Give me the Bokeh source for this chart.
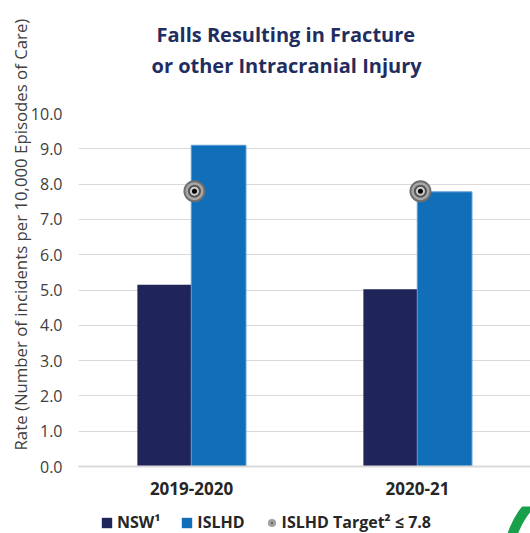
import math
from bokeh.plotting import figure
from bokeh.layouts import column
from bokeh.models import (ColumnDataSource, FactorRange, Range1d, FixedTicker,
                          NumeralTickFormatter, Title, Legend, LegendItem)
from bokeh.transform import dodge
from bokeh.embed import file_html
from bokeh.resources import INLINE

periods = ["2019-2020", "2020-21"]
nsw = [5.15, 5.02]
islhd = [9.1, 7.78]
target = [7.8, 7.8]
y_ticks = [0, 1, 2, 3, 4, 5, 6, 7, 8, 9, 10]

NAVY = "#1f2559"
BLUE = "#116eb8"
TITLE = "#1f2d5f"
GREEN = "#18a04a"
FONT = "Open Sans"

src = ColumnDataSource(dict(period=periods, nsw=nsw, islhd=islhd, target=target))

p = figure(x_range=FactorRange(*periods, range_padding=0), y_range=Range1d(0, 10),
           width=530, height=506, output_backend="svg", toolbar_location=None,
           title=None,
           min_border_left=78, min_border_right=0, min_border_top=113,
           min_border_bottom=40)
p.outline_line_color = None
p.background_fill_color = "white"
p.border_fill_color = "white"

p.vbar(x=dodge("period", -0.12, range=p.x_range), top="nsw", width=0.239,
       source=src, fill_color=NAVY, line_color=None)
p.vbar(x=dodge("period", 0.12, range=p.x_range), top="islhd", width=0.242,
       source=src, fill_color=BLUE, line_color="#5b9bd5", line_width=1)

tx = dodge("period", 0.013, range=p.x_range)
for sz, col in [(22, "#6f6f6f"), (18, "#a8a8a8"), (13, "#555555"), (9, "#cfcfcf"), (5, "#000000")]:
    p.scatter(x=tx, y="target", size=sz, source=src, fill_color=col, line_color=None)

p.yaxis.ticker = FixedTicker(ticks=y_ticks)
p.yaxis.formatter = NumeralTickFormatter(format="0.0")
p.yaxis.axis_line_color = None
p.yaxis.major_tick_line_color = None
p.yaxis.minor_tick_line_color = None
p.yaxis.major_tick_out = 0
p.yaxis.minor_tick_out = 0
p.yaxis.major_label_text_font = FONT
p.yaxis.major_label_text_font_size = "16px"
p.yaxis.major_label_text_color = "#404040"
p.yaxis.major_label_standoff = 16

p.xaxis.axis_line_color = "#d9d9d9"
p.xaxis.axis_line_width = 2
p.xaxis.major_tick_line_color = None
p.xaxis.minor_tick_line_color = None
p.xaxis.major_tick_out = 0
p.xaxis.minor_tick_out = 0
p.xaxis.major_label_text_font = FONT
p.xaxis.major_label_text_font_size = "17px"
p.xaxis.major_label_text_font_style = "bold"
p.xaxis.major_label_text_color = "#262626"
p.xaxis.major_label_standoff = 15

p.ygrid.grid_line_color = "#d9d9d9"
p.xgrid.grid_line_color = None

spacer = Title(text=" ", text_font_size="1px", standoff=30)
t2 = Title(text="or other Intracranial Injury", align="left", offset=73,
           text_font=FONT, text_font_size="20px", text_font_style="bold",
           text_color=TITLE, standoff=4)
t1 = Title(text="Falls Resulting in Fracture", align="left", offset=78,
           text_font=FONT, text_font_size="20px", text_font_style="bold",
           text_color=TITLE, standoff=0)
p.add_layout(spacer, "above")
p.add_layout(t2, "above")
p.add_layout(t1, "above")

ylab = Title(text="Rate (Number of incidents per 10,000 Episodes of Care)", align="left",
             offset=16, text_font=FONT, text_font_size="16.8px", text_font_style="normal",
             text_color="#404040", standoff=-8)
p.add_layout(ylab, "left")

# legend strip below the chart; its frame is aligned with the chart frame (78..530 px)
lg = figure(width=530, height=27, output_backend="svg", toolbar_location=None,
            x_range=Range1d(78, 530), y_range=Range1d(-27, 0),
            x_axis_location=None, y_axis_location=None,
            min_border_left=0, min_border_right=0, min_border_top=0, min_border_bottom=0)
lg.outline_line_color = None
lg.xgrid.grid_line_color = None
lg.ygrid.grid_line_color = None

# fragment of the neighbouring gauge ring visible at the bottom-right corner
lg.annulus(x=[588], y=[-53], inner_radius=75, outer_radius=85,
           fill_color=GREEN, line_color=None)

off = ColumnDataSource(dict(x=[-5000], y=[-5000], b=[-5001]))
l_nsw = lg.vbar(x="x", top="y", bottom="b", width=1, source=off, fill_color=NAVY, line_color=None)
l_isl = lg.vbar(x="x", top="y", bottom="b", width=1, source=off, fill_color=BLUE, line_color=None)
l_tgt = lg.scatter(x="x", y="y", size=6, source=off, fill_color="#5a5a5a",
                   line_color="#a0a0a0", line_width=3)

legend = Legend(items=[LegendItem(label="NSW\u00b9", renderers=[l_nsw]),
                       LegendItem(label="ISLHD", renderers=[l_isl]),
                       LegendItem(label="ISLHD Target\u00b2 \u2264 7.8", renderers=[l_tgt])],
                location=(22, 0), orientation="horizontal", padding=0, margin=0,
                spacing=20, glyph_width=13, glyph_height=13, label_standoff=4,
                label_text_font=FONT, label_text_font_size="16px",
                label_text_font_style="bold", label_text_color="#262626",
                border_line_color=None, background_fill_alpha=0)
lg.add_layout(legend, "center")

layout = column(p, lg, spacing=0)
open("out.html", "w").write(file_html(layout, INLINE))
